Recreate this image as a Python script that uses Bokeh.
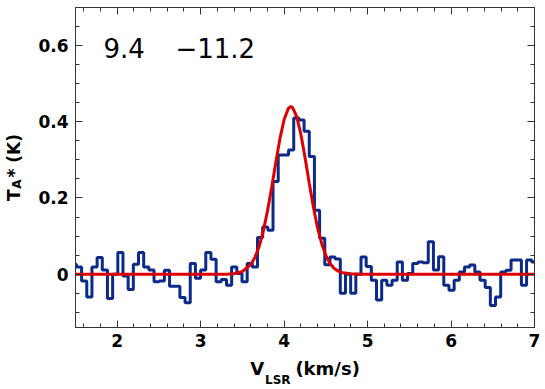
from bokeh.plotting import figure
from bokeh.models import (Range1d, FixedTicker, LinearAxis, Label,
                          CustomJSTickFormatter)
from bokeh.embed import file_html
from bokeh.resources import INLINE

# ---- data ----
channel_first_center = 1.480   # km/s
channel_width = 0.062          # km/s
tmb = [0.026, 0.019, -0.018, -0.060, 0.019, 0.044, 0.011, -0.064, 0.000, 0.057,
       -0.005, -0.040, 0.026, 0.057, 0.019, 0.011, -0.020, -0.018, 0.010, -0.032,
       -0.032, -0.061, -0.075, 0.028, -0.011, 0.011, 0.057, 0.039, -0.020, -0.014,
       -0.029, 0.019, 0.002, -0.020, 0.028, 0.019, 0.096, 0.124, 0.115, 0.243,
       0.313, 0.313, 0.326, 0.410, 0.405, 0.375, 0.309, 0.168, 0.094, 0.025,
       0.045, 0.040, -0.050, 0.000, -0.050, 0.000, 0.045, 0.020, -0.016, -0.068,
       -0.016, -0.029, -0.016, 0.032, -0.016, 0.002, 0.028, 0.032, 0.030, 0.085,
       0.011, 0.046, -0.029, -0.042, -0.016, 0.006, 0.019, 0.024, 0.006, -0.016,
       -0.035, -0.082, -0.060, 0.006, 0.010, 0.037, 0.037, -0.029, 0.037, 0.032]

fit_v = [1.5, 3.3, 3.4, 3.5, 3.6, 3.65, 3.7, 3.75, 3.8, 3.85, 3.9, 3.95, 4.0, 4.05,
         4.08, 4.1, 4.15, 4.2, 4.25, 4.3, 4.35, 4.4, 4.45, 4.5, 4.55, 4.6, 4.65,
         4.7, 4.8, 4.9, 7.0]
fit_t = [0.0, 0.0, 0.001, 0.007, 0.025, 0.044, 0.072, 0.113, 0.165, 0.227, 0.293,
         0.356, 0.406, 0.435, 0.440, 0.438, 0.414, 0.368, 0.307, 0.240, 0.177,
         0.122, 0.080, 0.049, 0.028, 0.015, 0.008, 0.004, 0.001, 0.0, 0.0]

x_major = [2, 3, 4, 5, 6, 7]
x_minor = [1.6, 1.8, 2.0, 2.2, 2.4, 2.6, 2.8, 3.0, 3.2, 3.4, 3.6, 3.8, 4.0, 4.2,
           4.4, 4.6, 4.8, 5.0, 5.2, 5.4, 5.6, 5.8, 6.0, 6.2, 6.4, 6.6, 6.8, 7.0]
y_major = [0, 0.2, 0.4, 0.6]
y_minor = [-0.1, -0.05, 0.0, 0.05, 0.1, 0.15, 0.2, 0.25, 0.3, 0.35, 0.4, 0.45,
           0.5, 0.55, 0.6, 0.65]
velocity_pair = ["9.4", "\u221211.2"]

centers = [channel_first_center + i * channel_width for i in range(len(tmb))]

FONT = "DejaVu Sans"
AX = "#333333"
NB = "\u00a0"

p = figure(frame_width=459, frame_height=320,
           x_range=Range1d(1.5, 7.0), y_range=Range1d(-0.14, 0.70),
           output_backend="svg", toolbar_location=None, tools="",
           min_border_left=75, min_border_right=10, min_border_top=7,
           min_border_bottom=61, background_fill_color="white",
           border_fill_color="white")
p.xgrid.visible = False
p.ygrid.visible = False
p.outline_line_color = AX
p.outline_line_width = 1

xt = FixedTicker(ticks=x_major, minor_ticks=x_minor)
yt = FixedTicker(ticks=y_major, minor_ticks=y_minor)
blank = CustomJSTickFormatter(code="return ''")


def ticks_style(ax):
    ax.major_tick_in = 7
    ax.major_tick_out = 0
    ax.minor_tick_in = 4
    ax.minor_tick_out = 0
    ax.axis_line_color = AX
    ax.major_tick_line_color = AX
    ax.minor_tick_line_color = AX
    ax.axis_line_width = 1


def label_style(ax, size):
    ax.axis_label_text_font = FONT
    ax.axis_label_text_font_style = "bold"
    ax.axis_label_text_font_size = size
    ax.axis_label_text_color = "black"


def label_only_axis(text, size, standoff):
    ax = LinearAxis(ticker=FixedTicker(ticks=[], minor_ticks=[]),
                    formatter=blank)
    ax.axis_line_color = None
    ax.major_tick_line_color = None
    ax.minor_tick_line_color = None
    ax.major_tick_out = 0
    ax.minor_tick_out = 0
    ax.major_label_standoff = 0
    ax.major_label_text_font_size = "1px"
    ax.axis_label = text
    ax.axis_label_standoff = standoff
    label_style(ax, size)
    return ax


xa = p.xaxis[0]
ya = p.yaxis[0]
xa.ticker = xt
ya.ticker = yt
for ax in (xa, ya):
    ticks_style(ax)
    ax.major_label_text_font = FONT
    ax.major_label_text_font_style = "bold"
    ax.major_label_text_font_size = "17px"
    ax.major_label_text_color = "black"
xa.major_label_standoff = 6
ya.major_label_standoff = 7
ya.major_label_overrides = {0: "0"}

# x axis title: V_LSR (km/s)
xa.axis_label = "V" + NB * 5 + "(km/s)"
xa.axis_label_standoff = 8
label_style(xa, "18px")
p.add_layout(label_only_axis("LSR" + NB * 13, "12px", -9), "below")

# y axis title: T_A* (K)
p.add_layout(label_only_axis("T" + NB * 2 + "*" + NB + "(K)", "17px", 12), "left")
p.add_layout(label_only_axis("A" + NB * 8, "12px", -23), "left")

# mirrored tick marks on top and right
top = LinearAxis(ticker=xt, formatter=blank)
ticks_style(top)
top.major_label_text_font_size = "1px"
top.major_label_standoff = 0
p.add_layout(top, "above")
right = LinearAxis(ticker=yt, formatter=blank)
ticks_style(right)
right.major_label_text_font_size = "1px"
right.major_label_standoff = 0
p.add_layout(right, "right")

p.step(x=centers, y=tmb, mode="center", line_color="#0b2a8a", line_width=3)
p.line(x=fit_v, y=fit_t, line_color="#dd0000", line_width=3)

for txt, xv in zip(velocity_pair, (1.836, 2.698)):
    p.add_layout(Label(x=xv, y=0.5925, text=txt, text_font=FONT,
                       text_font_size="26px", text_color="black",
                       text_baseline="alphabetic", text_align="left"))

open("out.html", "w").write(file_html(p, INLINE))
